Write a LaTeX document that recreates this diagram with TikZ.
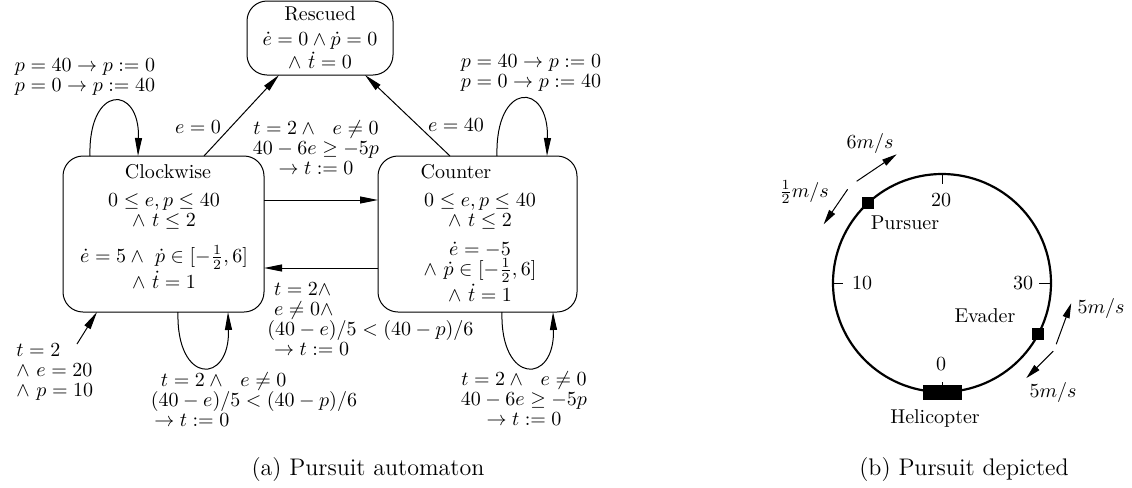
\documentclass[tikz,border=0pt]{standalone}
\usepackage{amsmath}
\usepackage{amssymb}
\usetikzlibrary{arrows.meta,calc,positioning}
\newcommand{\pursuitFont}[0]{\fontsize{10}{10}\selectfont}
\newcommand{\captionFont}[0]{\fontsize{12}{14}\selectfont}
\newcommand{\pursuitUnit}[0]{0.5pt}

\begin{document}
\begin{tikzpicture}[x=\pursuitUnit, y=-\pursuitUnit, font=\pursuitFont]
  \tikzset{state/.style={draw, rounded corners=10pt, inner sep=0pt, outer sep=0pt, line width=0.5pt},
    body/.style={align=center, inner sep=0pt},
    guard/.style={inner sep=0pt},
    trans/.style={-{Triangle[length=9pt,width=3.5pt]}, line width=0.5pt},
    speed/.style={-{Triangle[length=7.5pt,width=3.5pt]}, line width=0.5pt},
    tick/.style={line width=0.5pt},
    marker/.style={fill, inner sep=0pt, minimum size=6pt}}
  \useasboundingbox (0,0) rectangle (1132,488);

  \node[state, minimum width=73pt, minimum height=37pt, align=center] (res) at (320,38)
    {Rescued\\[2.5pt] $\dot e = 0 \wedge \dot p = 0$\\ $\wedge\ \dot t = 0$};
  \node[state, minimum width=100.5pt, minimum height=78pt] (cw) at (163.5,234) {};
  \node[state, minimum width=99.5pt, minimum height=78pt] (ct) at (477.5,234) {};
  \node (cwname) at (168,172) {Clockwise};
  \node (ctname) at (456,172) {Counter};
  \node[body, below=7pt of cwname.base, xshift=-2pt] (cwbody)
    {$0 \leq e,p \leq 40$\\ $\wedge\ t \leq 2$\\[8pt]
     $\dot e = 5 \wedge\ \dot p \in [-\frac{1}{2},6]$\\ $\wedge\ \dot t = 1$};
  \node[body, below=7pt of ctname.base, xshift=12pt] (ctbody)
    {$0 \leq e,p \leq 40$\\ $\wedge\ t \leq 2$\\[4.5pt]
     $\dot e = -5$\\ $\wedge\ \dot p \in [-\frac{1}{2},6]$\\ $\wedge\ \dot t = 1$};

  \draw[trans] ($(cw.north west)+(141,0)$) -- ($(res.south west)+(32,0)$);
  \draw[trans] ($(ct.north west)+(72,0)$) -- ($(res.south east)+(-28,0)$);
  \draw[trans] ($(cw.east)+(0,-34)$) -- ($(ct.west)+(0,-34)$);
  \draw[trans] ($(ct.west)+(0,34)$) -- ($(cw.east)+(0,34)$);
  \draw[trans] ($(cw.north west)+(27,0)$) .. controls +(-2,-72) and +(2,-72) .. ($(cw.north west)+(75,0)$);
  \draw[trans] ($(ct.north west)+(119,0)$) .. controls +(-2,-75) and +(2,-75) .. ($(ct.north west)+(169,0)$);
  \draw[trans] ($(cw.south west)+(115,0)$) .. controls +(-2,73) and +(2,73) .. ($(cw.south west)+(165,0)$);
  \draw[trans] ($(ct.south west)+(124,0)$) .. controls +(-2,73) and +(2,73) .. ($(ct.south west)+(175,0)$);
  \coordinate (init) at (77,344);
  \draw[trans] (init) -- ($(cw.south west)+(34,0)$);

  \node[guard] (gcwres) at (198,127) {$e = 0$};
  \node[guard] (gctres) at (456,125) {$e = 40$};
  \node[guard, align=center] (gcwct) at (316,148)
    {$t = 2 \wedge\ \ e \neq 0$\\ $40 - 6e \geq -5p$\\ $\to t := 0$};
  \node[guard, align=left, anchor=west] (gctcw) at (267,319)
    {\ $t = 2 \wedge$\\ \ $e \neq 0 \wedge$\\ $(40 - e)/5 < (40 - p)/6$\\ \ $\to t := 0$};
  \node[guard, align=left] (gcwtop) at (85,77) {$p = 40 \to p := 0$\\ $p = 0 \to p := 40$};
  \node[guard, align=left] (gcttop) at (531,73) {$p = 40 \to p := 0$\\ $p = 0 \to p := 40$};
  \node[guard, align=left] (gcwbot) at (254,400)
    {\ \,$t = 2 \wedge\ \ e \neq 0$\\ $(40 - e)/5 < (40 - p)/6$\\ \,$\to t := 0$};
  \node[guard, align=center] (gctbot) at (524,399)
    {$t = 2 \wedge\ \ e \neq 0$\\ $40 - 6e \geq -5p$\\ $\to t := 0$};
  \node[guard, align=left, anchor=west] (ginit) at (16,372)
    {$t = 2$\\ $\wedge\ e = 20$\\ $\wedge\ p = 10$};

  \node[draw, circle, line width=1.1pt, minimum size=109pt, inner sep=0pt, outer sep=0pt] (track) at (942,283) {};
  \draw[tick] (track.90) -- +(0,10);
  \draw[tick] (track.180) -- +(10,0);
  \draw[tick] (track.0) -- +(-12,0);
  \draw[tick] (track.270) -- +(0,-10);
  \node (n20) at (941,200) {20};
  \node (n10) at (862,283) {10};
  \node (n30) at (1023,283) {30};
  \node (n0) at (941,364) {0};

  \node[fill, inner sep=0pt, minimum width=19.5pt, minimum height=7.5pt] (heli) at (track.270) {};
  \node[marker] (pur) at (track.133) {};
  \node[marker] (eva) at (track.332.5) {};
  \node (heliname) at (935,418) {Helicopter};
  \node (purname) at (905,223) {Pursuer};
  \node (evaname) at (985,316) {Evader};

  \draw[speed] ($(pur)+(-11,-22)$) -- ($(pur)+(29,-49)$);
  \draw[speed] ($(pur)+(-20,-14)$) -- ($(pur)+(-44,21)$);
  \draw[speed] ($(eva)+(18,10)$) -- ($(eva)+(33,-31)$);
  \draw[speed] ($(eva)+(15,17)$) -- ($(eva)+(-12,44)$);
  \node (vfast) at (870,143) {$6m/s$};
  \node (vslow) at (804,192) {$\frac{1}{2}m/s$};
  \node (vup) at (1101,308) {$5m/s$};
  \node (vdown) at (1053,392) {$5m/s$};

  \node[font=\captionFont] (capa) at (368,470) {(a)\ Pursuit\ automaton};
  \node[font=\captionFont] (capb) at (964,470) {(b)\ Pursuit\ depicted};
\end{tikzpicture}
\end{document}
